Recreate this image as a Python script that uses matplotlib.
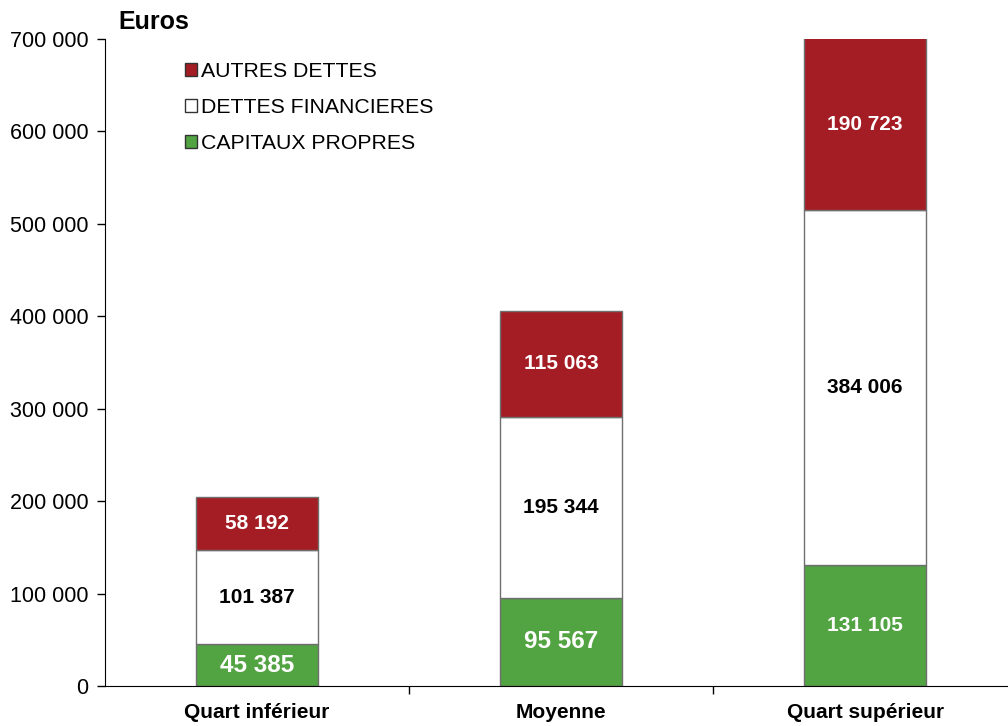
import numpy as np
import matplotlib.pyplot as plt
from matplotlib.patches import Patch

plt.rcParams['font.family'] = ['Liberation Sans', 'DejaVu Sans']

categories = ["Quart inférieur", "Moyenne", "Quart supérieur"]
capitaux = [45385, 95567, 131105]
dettes_fin = [101387, 195344, 384006]
autres = [58192, 115063, 190723]

red = "#A51D24"
green = "#52A342"
edge = "#6f6f6f"


def fmt(v):
    return f"{v:,}".replace(",", " ")


fig = plt.figure(figsize=(10.08, 7.26), dpi=100)
ax = fig.add_axes([0.104, 0.0551, 0.896, 0.8912])

x = np.arange(len(categories))
w = 0.4
cap = np.array(capitaux)
fin = np.array(dettes_fin)
aut = np.array(autres)
ymax = 700000

ax.bar(x, cap, w, color=green, edgecolor=edge, linewidth=1)
ax.bar(x, fin, w, bottom=cap, color="white", edgecolor=edge, linewidth=1)
ax.bar(x, aut, w, bottom=cap + fin, color=red, edgecolor=edge, linewidth=1)

# value labels, centred on the visible part of each segment
big = [True, True, False]
for i in range(len(x)):
    ax.text(x[i], cap[i] / 2, fmt(cap[i]), ha="center", va="center",
            color="white", fontweight="bold", fontsize=17.5 if big[i] else 15)
    ax.text(x[i], cap[i] + fin[i] / 2, fmt(fin[i]), ha="center", va="center",
            color="black", fontweight="bold", fontsize=15)
    lo = cap[i] + fin[i]
    hi = min(lo + aut[i], ymax)
    ax.text(x[i], (lo + hi) / 2, fmt(aut[i]), ha="center", va="center",
            color="white", fontweight="bold", fontsize=15)

ax.set_ylim(0, ymax)
ax.set_xlim(-0.5, 2.47)
ax.set_yticks(np.arange(0, ymax + 1, 100000))
ax.set_yticklabels([fmt(v) for v in range(0, ymax + 1, 100000)], fontsize=15.5)
ax.set_xticks([0.5, 1.5])
ax.set_xticklabels([])
ax.tick_params(axis="x", length=6, width=1)
ax.tick_params(axis="y", length=6, width=1, pad=6)
for i, c in enumerate(categories):
    ax.text(x[i], -0.027, c, transform=ax.get_xaxis_transform(), ha="center",
            va="top", fontweight="bold", fontsize=15)

ax.spines["top"].set_visible(False)
ax.spines["right"].set_visible(False)

fig.text(0.117, 0.97, "Euros", fontweight="bold", fontsize=18, ha="left", va="center")

handles = [Patch(facecolor=red, edgecolor="#333333"),
           Patch(facecolor="white", edgecolor="#333333"),
           Patch(facecolor=green, edgecolor="#333333")]
labels = ["AUTRES DETTES", "DETTES FINANCIERES", "CAPITAUX PROPRES"]
ax.legend(handles, labels, loc="upper left", bbox_to_anchor=(0.0795, 0.977),
          frameon=False, fontsize=15.3, handlelength=0.55, handleheight=0.55,
          handletextpad=0.2, labelspacing=0.8, borderaxespad=0)

fig.savefig("out.png", dpi=100)
